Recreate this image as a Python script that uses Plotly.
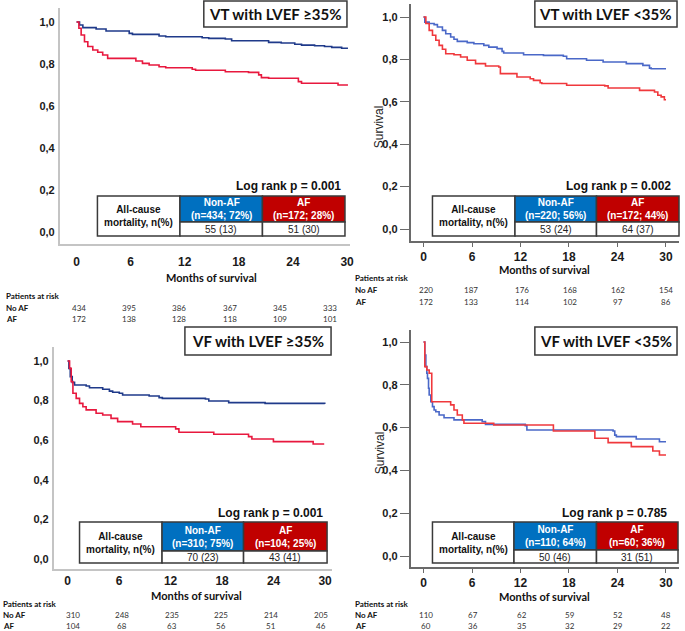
import plotly.graph_objects as go

W, H = 685, 631

# ---------------- data ----------------
months_ticks = [0, 6, 12, 18, 24, 30]
surv_ticks = [0.0, 0.2, 0.4, 0.6, 0.8, 1.0]
surv_ticktext = ["0,0", "0,2", "0,4", "0,6", "0,8", "1,0"]

titles = ["VT with LVEF ≥35%", "VT with LVEF <35%", "VF with LVEF ≥35%", "VF with LVEF <35%"]
logrank = ["Log rank p = 0.001", "Log rank p = 0.002", "Log rank p = 0.001", "Log rank p = 0.785"]
nonaf_header = ["(n=434; 72%)", "(n=220; 56%)", "(n=310; 75%)", "(n=110; 64%)"]
af_header = ["(n=172; 28%)", "(n=172; 44%)", "(n=104; 25%)", "(n=60; 36%)"]
nonaf_deaths = ["55 (13)", "53 (24)", "70 (23)", "50 (46)"]
af_deaths = ["51 (30)", "64 (37)", "43 (41)", "31 (51)"]

risk_noaf = [[434, 395, 386, 367, 345, 333],
             [220, 187, 176, 168, 162, 154],
             [310, 248, 235, 225, 214, 205],
             [110, 67, 62, 59, 52, 48]]
risk_af = [[172, 138, 128, 118, 109, 101],
           [172, 133, 114, 102, 97, 86],
           [104, 68, 63, 56, 51, 46],
           [60, 36, 35, 32, 29, 22]]

# Panel 1: VT LVEF >=35%
p1_noaf_t = [0, 0.33, 0.70, 2.17, 3.27, 5.84, 6.2, 9.15, 9.89, 13.93, 14.66, 16.5, 17.2, 21.3, 22.7, 24.2, 24.95, 26.4, 27.5, 28.3, 29.4, 30.1]
p1_noaf_s = [1.0, 0.986, 0.973, 0.967, 0.957, 0.946, 0.941, 0.933, 0.930, 0.925, 0.922, 0.919, 0.911, 0.903, 0.900, 0.894, 0.890, 0.887, 0.883, 0.879, 0.875, 0.875]
p1_af_t = [0, 0.26, 0.51, 0.88, 1.25, 1.80, 2.35, 2.90, 3.45, 6.58, 7.31, 8.05, 9.15, 9.89, 12.83, 13.2, 16.5, 19.07, 20.2, 20.5, 21.3, 24.6, 24.95, 29.0, 30.1]
p1_af_s = [1.0, 0.970, 0.938, 0.906, 0.883, 0.867, 0.856, 0.843, 0.827, 0.814, 0.803, 0.795, 0.787, 0.782, 0.775, 0.770, 0.763, 0.760, 0.748, 0.735, 0.732, 0.716, 0.708, 0.700, 0.700]

# Panel 2: VT LVEF <35%
p2_noaf_t = [0, 0.16, 0.70, 1.31, 1.72, 2.34, 2.75, 3.36, 3.77, 4.18, 5.41, 6.23, 7.46, 8.08, 9.10, 9.72, 9.92, 12.38, 14.84, 17.30, 17.71, 20.17, 22.22, 25.09, 27.14, 27.96, 28.17, 30.0]
p2_noaf_s = [1.0, 0.976, 0.969, 0.964, 0.953, 0.937, 0.921, 0.906, 0.895, 0.885, 0.879, 0.874, 0.866, 0.858, 0.851, 0.838, 0.830, 0.822, 0.819, 0.815, 0.803, 0.796, 0.788, 0.780, 0.772, 0.759, 0.756, 0.756]
p2_af_t = [0, 0.29, 0.70, 1.11, 1.52, 1.93, 2.34, 2.75, 3.77, 4.59, 5.41, 6.44, 7.67, 9.31, 9.51, 11.56, 13.2, 13.61, 14.43, 14.64, 17.71, 22.42, 22.84, 26.73, 28.58, 28.99, 29.4, 29.8, 30.0]
p2_af_s = [1.0, 0.969, 0.937, 0.914, 0.890, 0.866, 0.848, 0.827, 0.822, 0.811, 0.796, 0.780, 0.769, 0.764, 0.733, 0.717, 0.709, 0.701, 0.690, 0.686, 0.678, 0.675, 0.665, 0.654, 0.646, 0.631, 0.623, 0.610, 0.610]

# Panel 3: VF LVEF >=35%
p3_noaf_t = [0, 0.15, 0.31, 0.54, 0.81, 2.16, 2.55, 4.09, 4.87, 5.25, 6.02, 6.41, 9.50, 10.66, 11.04, 16.06, 16.45, 18.77, 23.01, 29.96]
p3_noaf_s = [1.0, 0.963, 0.921, 0.892, 0.879, 0.874, 0.865, 0.857, 0.848, 0.842, 0.837, 0.828, 0.823, 0.815, 0.811, 0.808, 0.798, 0.790, 0.786, 0.783]
p3_af_t = [0, 0.23, 0.42, 0.62, 1.0, 1.39, 1.78, 2.16, 3.32, 4.09, 5.06, 5.83, 7.57, 8.53, 12.59, 12.97, 17.03, 21.08, 21.47, 23.98, 28.61, 29.9]
p3_af_s = [1.0, 0.963, 0.896, 0.837, 0.811, 0.786, 0.769, 0.753, 0.736, 0.727, 0.710, 0.694, 0.682, 0.668, 0.657, 0.640, 0.630, 0.618, 0.606, 0.593, 0.581, 0.581]

# Panel 4: VF LVEF <35%
p4_noaf_t = [0, 0.16, 0.29, 0.41, 0.49, 0.62, 0.70, 0.90, 1.11, 1.31, 1.52, 1.93, 2.54, 3.77, 7.26, 7.67, 12.59, 12.79, 23.45, 23.66, 23.86, 26.32, 29.19, 30.0]
p4_noaf_s = [1.0, 0.939, 0.885, 0.854, 0.830, 0.784, 0.752, 0.721, 0.698, 0.682, 0.674, 0.659, 0.646, 0.636, 0.628, 0.615, 0.609, 0.589, 0.584, 0.565, 0.558, 0.547, 0.534, 0.534]
p4_af_t = [0, 0.16, 0.41, 0.70, 1.02, 3.36, 3.77, 4.18, 4.80, 5.0, 8.69, 16.07, 21.2, 22.84, 25.71, 28.37, 29.19, 30.0]
p4_af_s = [1.0, 0.885, 0.869, 0.854, 0.721, 0.706, 0.682, 0.659, 0.636, 0.620, 0.612, 0.584, 0.550, 0.530, 0.511, 0.491, 0.472, 0.472]

curves = [(p1_noaf_t, p1_noaf_s, p1_af_t, p1_af_s),
          (p2_noaf_t, p2_noaf_s, p2_af_t, p2_af_s),
          (p3_noaf_t, p3_noaf_s, p3_af_t, p3_af_s),
          (p4_noaf_t, p4_noaf_s, p4_af_t, p4_af_s)]

# ---------------- layout geometry (pixels) ----------------
geo = [
    dict(L=60, R=352, T=8, B=244, x0=77, xs=9.07, y0=232, ys=210, style="light", so=6,
         tbl=(98, 181, 264, 347, 196, 222, 236), lr=(345, 186), tb=(205, 349, 1, 27),
         tl=(264, 277, 296, 308, 319), risk_x=[79, 130, 180, 231, 282, 332], lab_x=4),
    dict(L=413, R=683, T=4, B=241, x0=426, xs=8.13, y0=229, ys=212, style="dark", so=0,
         tbl=(435, 518, 600, 683, 196, 222, 236), lr=(677, 186), tb=(538, 681, 1, 27),
         tl=(257, 269, 278, 290, 302), risk_x=[428, 474, 525, 573, 622, 670], lab_x=355),
    dict(L=54, R=334, T=347, B=569, x0=68, xs=8.633, y0=559, ys=198, style="light", so=0,
         tbl=(80, 163, 245, 329, 522, 551, 563), lr=(327, 513), tb=(186, 333, 327, 355),
         tl=(579, 595, 604, 615, 626), risk_x=[73, 123, 173, 222, 273, 323], lab_x=1),
    dict(L=413, R=683, T=330, B=567, x0=426, xs=8.13, y0=556, ys=214, style="dark", so=0,
         tbl=(435, 517, 600, 682, 522, 550, 563), lr=(673, 513), tb=(538, 681, 327, 355),
         tl=(582, 596, 604, 615, 626), risk_x=[428, 476, 525, 573, 622, 670], lab_x=355),
]

def px(x):
    return x / W

def py(y):
    return 1 - y / H

BLUE_CELL = "#0070C0"
RED_CELL = "#C00000"
BORDER = "#3a3a3a"
TICKFONT = "Liberation Sans, Arial, sans-serif"
CAL = "Lato, Carlito, sans-serif"

fig = go.Figure()
shapes = []
annotations = []
layout = dict(width=W, height=H, margin=dict(l=0, r=0, t=0, b=0),
              paper_bgcolor="white", plot_bgcolor="white", showlegend=False)

for i, g in enumerate(geo):
    k = i + 1
    xa = "xaxis" if k == 1 else f"xaxis{k}"
    ya = "yaxis" if k == 1 else f"yaxis{k}"
    xr = "x" if k == 1 else f"x{k}"
    yr = "y" if k == 1 else f"y{k}"
    dark = g["style"] == "dark"
    axcol = "#6a6a6a" if dark else "#c4c4c4"
    xrange = [(g["L"] - g["x0"]) / g["xs"], (g["R"] - g["x0"]) / g["xs"]]
    yrange = [(g["y0"] - g["B"]) / g["ys"], (g["y0"] - g["T"]) / g["ys"]]
    layout[xa] = dict(domain=[px(g["L"]), px(g["R"])], range=xrange, anchor=yr,
                      showgrid=False, zeroline=False, showline=True, linecolor=axcol, linewidth=1.5,
                      tickvals=months_ticks, ticktext=[str(m) for m in months_ticks],
                      ticks="outside" if dark else "", ticklen=4, tickcolor=axcol,
                      tickfont=dict(family=TICKFONT, size=12, color="#1a1a1a", weight="bold"),
                      ticklabelstandoff=g["so"], fixedrange=True)
    layout[ya] = dict(domain=[py(g["B"]), py(g["T"])], range=yrange, anchor=xr,
                      showgrid=False, zeroline=False, showline=True, linecolor=axcol, linewidth=1.5,
                      tickvals=surv_ticks, ticktext=surv_ticktext,
                      ticks="outside" if dark else "", ticklen=9, tickcolor=axcol,
                      tickfont=dict(family=TICKFONT, size=11, color="#1a1a1a", weight="bold"),
                      ticklabelstandoff=0 if dark else 1, fixedrange=True)

    nt, ns, at, as_ = curves[i]
    blue = "#4a68c8" if dark else "#1f3a8a"
    red = "#f0383c" if dark else "#e8183e"
    fig.add_trace(go.Scatter(x=nt, y=ns, mode="lines", line=dict(color=blue, width=1.6, shape="hv"),
                             xaxis=xr, yaxis=yr, hoverinfo="skip"))
    fig.add_trace(go.Scatter(x=at, y=as_, mode="lines", line=dict(color=red, width=1.6, shape="hv"),
                             xaxis=xr, yaxis=yr, hoverinfo="skip"))

    # title box
    bx0, bx1, by0, by1 = g["tb"]
    shapes.append(dict(type="rect", xref="paper", yref="paper", x0=px(bx0), x1=px(bx1),
                       y0=py(by1), y1=py(by0), line=dict(color=BORDER, width=1.5), fillcolor="white", layer="above"))
    annotations.append(dict(text=f"<b>{titles[i]}</b>", xref="paper", yref="paper",
                            x=px((bx0 + bx1) / 2), y=py((by0 + by1) / 2), showarrow=False,
                            xanchor="center", yanchor="middle",
                            font=dict(family=CAL, size=15, color="#111")))

    # log rank
    lx, ly = g["lr"]
    annotations.append(dict(text=f"<b>{logrank[i]}</b>", xref="paper", yref="paper",
                            x=px(lx), y=py(ly), showarrow=False, xanchor="right", yanchor="middle",
                            font=dict(family=TICKFONT, size=12, color="#111")))

    # table
    c0, c1, c2, c3, t0, t1, t2 = g["tbl"]
    def rect(a, b, c, d, fill):
        shapes.append(dict(type="rect", xref="paper", yref="paper", x0=px(a), x1=px(b),
                           y0=py(d), y1=py(c), line=dict(color=BORDER, width=1.5), fillcolor=fill, layer="above"))
    rect(c0, c1, t0, t2, "white")
    rect(c1, c2, t0, t1, BLUE_CELL)
    rect(c2, c3, t0, t1, RED_CELL)
    rect(c1, c2, t1, t2, "white")
    rect(c2, c3, t1, t2, "white")
    annotations.append(dict(text="<b>All-cause<br>mortality, n(%)</b>", xref="paper", yref="paper",
                            x=px((c0 + c1) / 2), y=py((t0 + t2) / 2), showarrow=False,
                            xanchor="center", yanchor="middle",
                            font=dict(family=TICKFONT, size=10, color="#111")))
    for (a, b, head, sub, val) in [(c1, c2, "Non-AF", nonaf_header[i], nonaf_deaths[i]),
                                   (c2, c3, "AF", af_header[i], af_deaths[i])]:
        annotations.append(dict(text=f"<b>{head}<br>{sub}</b>", xref="paper", yref="paper",
                                x=px((a + b) / 2), y=py((t0 + t1) / 2), showarrow=False,
                                xanchor="center", yanchor="middle",
                                font=dict(family=TICKFONT, size=10, color="white")))
        annotations.append(dict(text=val, xref="paper", yref="paper",
                                x=px((a + b) / 2), y=py((t1 + t2) / 2 + 0.5), showarrow=False,
                                xanchor="center", yanchor="middle",
                                font=dict(family=TICKFONT, size=10, color="#222")))

    # x-axis title and risk table
    _, ty, hy, ny, ay = g["tl"]
    annotations.append(dict(text="<b>Months of survival</b>", xref="paper", yref="paper",
                            x=px((g["x0"] + g["x0"] + 30 * g["xs"]) / 2), y=py(ty), showarrow=False,
                            xanchor="center", yanchor="middle",
                            font=dict(family=CAL, size=11, color="#111")))
    for txt, yy in [("Patients at risk", hy), ("No AF", ny), ("AF", ay)]:
        annotations.append(dict(text=f"<b>{txt}</b>", xref="paper", yref="paper",
                                x=px(g["lab_x"]), y=py(yy), showarrow=False,
                                xanchor="left", yanchor="middle",
                                font=dict(family=CAL, size=8, color="#111")))
    for xx, n1, n2 in zip(g["risk_x"], risk_noaf[i], risk_af[i]):
        annotations.append(dict(text=str(n1), xref="paper", yref="paper", x=px(xx), y=py(ny),
                                showarrow=False, xanchor="center", yanchor="middle",
                                font=dict(family=CAL, size=8, color="#333")))
        annotations.append(dict(text=str(n2), xref="paper", yref="paper", x=px(xx), y=py(ay),
                                showarrow=False, xanchor="center", yanchor="middle",
                                font=dict(family=CAL, size=8, color="#333")))

    if dark:
        annotations.append(dict(text="Survival", xref="paper", yref="paper",
                                x=px(382), y=py((g["T"] + g["B"]) / 2 + 4), showarrow=False,
                                textangle=-90, xanchor="center", yanchor="middle",
                                font=dict(family=TICKFONT, size=12, color="#222")))

layout["shapes"] = shapes
layout["annotations"] = annotations
fig.update_layout(**layout)
fig.write_html("out.html", config={"displayModeBar": False},
               post_script="document.body.style.margin='0';document.body.style.overflow='hidden';")
